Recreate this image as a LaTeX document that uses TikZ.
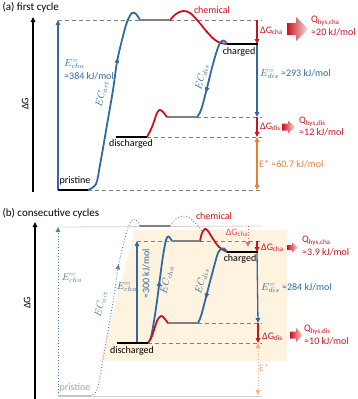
\documentclass[tikz,border=0pt]{standalone}
\usepackage{fontspec}
\setmainfont{Carlito}
\usetikzlibrary{arrows.meta,decorations.markings}
\definecolor{ecblue}{RGB}{50,105,165}
\definecolor{chemred}{RGB}{200,20,30}
\definecolor{levelgray}{RGB}{128,128,128}
\definecolor{estar}{RGB}{237,125,49}
\definecolor{cyclebg}{RGB}{254,243,222}
\begin{document}
\begin{tikzpicture}[x=1pt, y=-1pt, >={Triangle[length=5pt, width=4.5pt]},
    font=\fontsize{10}{12}\selectfont,
    enlevel/.style={line width=2.6pt},
    guide/.style={levelgray, line width=0.8pt, dash pattern=on 4pt off 3pt},
    ecurve/.style={line width=1.8pt, line cap=round},
    faint/.style={line width=0.9pt, dotted},
    vline/.style={line width=1.3pt},
    midarrow/.style={postaction={decorate}, decoration={markings,
        mark=at position #1 with {\arrow{Triangle[length=5pt, width=4.5pt]}}}},
    hysarrow/.style={left color=chemred, right color=chemred!15},
    val/.style={anchor=west, inner sep=0pt},
    slant/.style={inner sep=0.5pt}]
    \useasboundingbox (0,0) rectangle (357,399);

    \begin{scope}
        \coordinate (pri-l) at (58,190);
        \coordinate (pri-r) at (88,190);
        \coordinate (top-l) at (140,20);
        \coordinate (top-r) at (170,20);
        \coordinate (chg-l) at (227,44);
        \coordinate (chg-r) at (258,44);
        \coordinate (mid-l) at (167,117);
        \coordinate (mid-r) at (197,117);
        \coordinate (dis-l) at (116,137);
        \coordinate (dis-r) at (147,137);
        \coordinate (ea-top) at (58,20);
        \coordinate (rc-top) at (257,20);
        \coordinate (rc-chg) at (257,44);
        \coordinate (rc-mid) at (257,117);
        \coordinate (rc-dis) at (257,137);
        \coordinate (rc-pri) at (257,190);

        \node[anchor=west, font=\fontsize{11}{13}\selectfont] (title-a) at (-1,7) {(a) first cycle};
        \draw[->, vline] (33,192) -- (33,17);
        \node[rotate=90, anchor=south] (dg-a) at (32,104) {ΔG};

        \draw[guide] (ea-top) -- (262,20);
        \draw[guide] (mid-r) -- (262,117);
        \draw[guide] (dis-r) -- (262,137);
        \draw[guide] (pri-r) -- (262,190);

        \draw[->, vline, ecblue] (pri-l) -- (ea-top);
        \draw[->, vline, chemred] (rc-top) -- (rc-chg);
        \draw[->, vline, ecblue] (rc-chg) -- (rc-mid);
        \draw[->, vline, chemred] (rc-mid) -- (rc-dis);
        \draw[<->, vline, estar] (rc-dis) -- (rc-pri);

        \draw[ecurve, ecblue, midarrow=0.7] plot[smooth, tension=0.55] coordinates
            {(pri-r) (96,184) (100,165) (107,125) (113,90) (117,62) (122,40) (127,22) (132,13) (136,14) (top-l)};
        \draw[ecurve, chemred] plot[smooth, tension=0.6] coordinates
            {(top-r) (176,14) (183,11) (190,13) (198,21) (207,32) (215,40) (221,43) (chg-l)};
        \draw[ecurve, ecblue, midarrow=0.7] plot[smooth, tension=0.6] coordinates
            {(chg-l) (223.5,40.5) (219,45) (213,64) (206,92) (201,110) (mid-r)};
        \draw[ecurve, chemred] plot[smooth, tension=0.6] coordinates
            {(dis-r) (152,127) (157,113) (160,110) (163,112) (mid-l)};

        \draw[enlevel] (pri-l) -- (pri-r);
        \draw[enlevel, levelgray] (top-l) -- (top-r);
        \draw[enlevel] (chg-l) -- (chg-r);
        \draw[enlevel, levelgray] (mid-l) -- (mid-r);
        \draw[enlevel] (dis-l) -- (dis-r);

        \shade[hysarrow] (287,23) -- (296,23) -- (296,17) -- (308,29) -- (296,41) -- (296,35) -- (287,35) -- cycle;
        \shade[hysarrow] (282,123.5) -- (288,123.5) -- (288,120.5) -- (295,127) -- (288,133.5) -- (288,130.5) -- (282,130.5) -- cycle;

        \node[ecblue, val] (echa-a) at (64,64) {$E^{=}_{cha}$};
        \node[ecblue, val] (echa-val-a) at (64,76) {≈384 kJ/mol};
        \node[ecblue, slant, rotate=77] (ecact-a) at (102,94) {$EC_{act}$};
        \node (pri-lbl-a) at (75,181) {pristine};
        \node (dis-lbl-a) at (131,144) {discharged};
        \node (chg-lbl-a) at (239,52) {charged};
        \node[chemred] (chem-lbl-a) at (212,10) {chemical};
        \node[ecblue, slant, rotate=75] (ecdis-a) at (202,77) {$EC_{dis}$};
        \node[ecblue, val] (edis-a) at (260,74) {$E^{=}_{dis}$ ≈293 kJ/mol};
        \node[chemred, val] (dgcha-a) at (260,31) {ΔG\textsubscript{cha}};
        \node[chemred, val] (qcha-a) at (311,21) {Q\textsubscript{hys,cha}};
        \node[chemred, val] (qcha-val-a) at (311,32) {≈20 kJ/mol};
        \node[chemred, val] (dgdis-a) at (260,127) {ΔG\textsubscript{dis}};
        \node[chemred, val] (qdis-a) at (299,122) {Q\textsubscript{hys,dis}};
        \node[chemred, val] (qdis-val-a) at (299,132) {≈12 kJ/mol};
        \node[estar, val] (estar-a) at (259,164) {E* ≈60.7 kJ/mol};
    \end{scope}

    \begin{scope}[shift={(0,206)}]
        \coordinate (pri-l) at (58,190);
        \coordinate (pri-r) at (90,190);
        \coordinate (top-l) at (140,20);
        \coordinate (top-r) at (170,20);
        \coordinate (cha-l) at (172,35);
        \coordinate (cha-r) at (200,35);
        \coordinate (chg-l) at (227,46);
        \coordinate (chg-r) at (258,46);
        \coordinate (mid-l) at (168,117);
        \coordinate (mid-r) at (198,117);
        \coordinate (dis-l) at (117,137);
        \coordinate (dis-r) at (148,137);
        \coordinate (ea-top) at (58,21);
        \coordinate (eb-bot) at (137,137);
        \coordinate (eb-top) at (137,35);
        \coordinate (rd-top) at (248,20);
        \coordinate (rd-end) at (248,41);
        \coordinate (rc-cha) at (257,35);
        \coordinate (rc-chg) at (257,46);
        \coordinate (rc-mid) at (258,117);
        \coordinate (rc-dis) at (258,137);
        \coordinate (rc-pri) at (258,189);

        \fill[cyclebg] (100,155) -- (135,24) -- (287,24) -- (287,155) -- cycle;

        \node[anchor=west, font=\fontsize{11}{13}\selectfont] (title-b) at (-1,7) {(b) consecutive cycles};
        \draw[->, vline] (35,193) -- (35,16);
        \node[rotate=90, anchor=south] (dg-b) at (34,97) {ΔG};

        \draw[gray!35, line width=0.8pt] (ea-top) -- (262,20);
        \draw[gray!35, line width=0.8pt] (pri-r) -- (262,190);
        \draw[guide] (eb-top) -- (262,35);
        \draw[guide] (mid-r) -- (262,117);
        \draw[guide] (dis-r) -- (262,137);

        \draw[->, faint, ecblue!85] (pri-l) -- (ea-top);
        \draw[->, vline, ecblue] (eb-bot) -- (eb-top);
        \draw[->, faint, chemred!60] (rd-top) -- (rd-end);
        \draw[->, vline, chemred] (rc-cha) -- (rc-chg);
        \draw[->, vline, ecblue] (rc-chg) -- (rc-mid);
        \draw[->, vline, chemred] (rc-mid) -- (rc-dis);
        \draw[<->, faint, estar!60] (rc-dis) -- (rc-pri);

        \draw[faint, ecblue!85, midarrow=0.7] plot[smooth, tension=0.55] coordinates
            {(pri-r) (97,184) (101,165) (108,125) (114,90) (118,62) (123,40) (128,22) (133,13) (137,15) (top-l)};
        \draw[faint, chemred!70] plot[smooth, tension=0.6] coordinates
            {(top-r) (176,13) (183,10) (190,12) (197,19) (203,26)};
        \draw[ecurve, ecblue, midarrow=0.55] plot[smooth, tension=0.55] coordinates
            {(dis-r) (151,131) (154,115) (157,95) (160,72) (163,50) (166,34) (168.5,30.5) (cha-l)};
        \draw[ecurve, chemred] plot[smooth, tension=0.6] coordinates
            {(cha-r) (202,27) (205,23) (208,25) (213,33) (219,41) (chg-l)};
        \draw[ecurve, ecblue, midarrow=0.7] plot[smooth, tension=0.6] coordinates
            {(chg-l) (224,42.5) (220,44) (217,50) (211,72) (205,95) (201,110) (mid-r)};
        \draw[ecurve, chemred] plot[smooth, tension=0.6] coordinates
            {(dis-r) (152,130) (157,115) (161,110) (164,112) (mid-l)};

        \draw[enlevel, gray!45] (pri-l) -- (pri-r);
        \draw[enlevel, levelgray] (top-l) -- (top-r);
        \draw[enlevel, levelgray] (cha-l) -- (cha-r);
        \draw[enlevel] (chg-l) -- (chg-r);
        \draw[enlevel, levelgray] (mid-l) -- (mid-r);
        \draw[enlevel] (dis-l) -- (dis-r);

        \shade[hysarrow] (287,39) -- (292,39) -- (292,36.5) -- (298,41.5) -- (292,46.5) -- (292,44) -- (287,44) -- cycle;
        \shade[hysarrow] (290,125.5) -- (296,125.5) -- (296,122) -- (303,129) -- (296,136) -- (296,132.5) -- (290,132.5) -- cycle;

        \node[ecblue!85] (echa-b) at (72,72) {$E^{=}_{cha}$};
        \node[ecblue!85, slant, rotate=77] (ecact-b) at (101,98) {$EC_{act}$};
        \node[gray!70] (pri-lbl-b) at (75,182) {pristine};
        \node[ecblue, slant] (echa2-b) at (127,81) {$E^{=}_{cha}$};
        \node[ecblue, slant, rotate=90] (echa2-val-b) at (146,68) {≈300 kJ/mol};
        \node[ecblue, slant, rotate=77] (eccha-b) at (167,74) {$EC_{cha}$};
        \node (dis-lbl-b) at (132,145) {discharged};
        \node[chemred] (chem-lbl-b) at (214,10) {chemical};
        \node (chg-lbl-b) at (240,53) {charged};
        \node[ecblue, slant, rotate=75] (ecdis-b) at (202,75) {$EC_{dis}$};
        \node[chemred!70] (dgcha-dot-b) at (237,27) {ΔG\textsubscript{cha}};
        \node[chemred, val] (dgcha-b) at (261,42) {ΔG\textsubscript{cha}};
        \node[chemred, val] (qcha-b) at (302,35) {Q\textsubscript{hys,cha}};
        \node[chemred, val] (qcha-val-b) at (302,46) {≈3.9 kJ/mol};
        \node[ecblue, val] (edis-b) at (261,82) {$E^{=}_{dis}$ ≈284 kJ/mol};
        \node[chemred, val] (dgdis-b) at (262,131) {ΔG\textsubscript{dis}};
        \node[chemred, val] (qdis-b) at (304,124) {Q\textsubscript{hys,dis}};
        \node[chemred, val] (qdis-val-b) at (304,135) {≈10 kJ/mol};
        \node[estar!60, val] (estar-b) at (259,162) {E*};
    \end{scope}
\end{tikzpicture}
\end{document}
